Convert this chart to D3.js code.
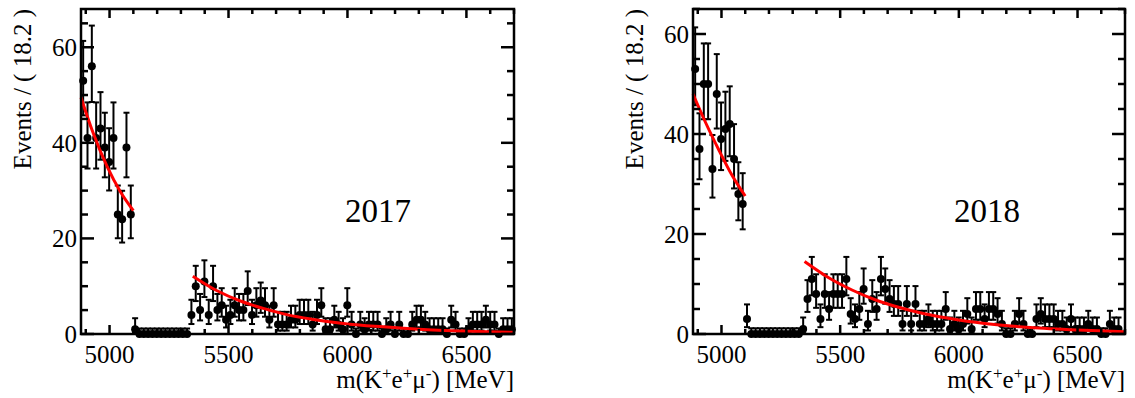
<!DOCTYPE html>
<html>
<head>
<meta charset="utf-8">
<script src="https://cdn.jsdelivr.net/npm/d3@7"></script>
<style>
  html, body { margin: 0; padding: 0; background: #fff; }
  svg { display: block; }
  text { font-family: "Liberation Serif", "DejaVu Serif", serif; fill: #000; }
</style>
</head>
<body>
<svg id="chart" width="1135" height="398"></svg>
<script>
// Binning: 100 bins of 18.2 MeV between 4880 and 6700 MeV
const massRange = [4880, 6700];
const nBins = 100;

// Event counts per bin, 2017 sample
const counts2017 = [
  53, 41, 56, 41, 43, 39, 36, 41, 25, 24, 39, 25,
  1, 0, 0, 0, 0, 0, 0, 0, 0, 0, 0, 0, 0,
  4, 10, 5, 11, 4, 10, 5, 6, 3, 4,
  6, 5, 5, 9, 4, 6, 7, 6, 3, 6,
  2, 2, 2, 3, 3, 4, 4, 4, 2, 4,
  6, 1, 1, 3, 2, 1, 6, 2, 0,
  2, 1, 2, 2, 2, 0, 1, 2, 0, 2, 0, 0, 2, 3, 3, 2, 1, 1,
  1, 1, 0, 3, 2, 0, 0, 1, 2, 2, 2, 3, 2, 2, 0, 1, 1, 1
];

// Event counts per bin, 2018 sample
const counts2018 = [
  53, 37, 50, 50, 33, 48, 39, 41, 42, 35, 28, 26,
  3, 0, 0, 0, 0, 0, 0, 0, 0, 0, 0, 0, 0,
  1,
  7, 11, 8, 3, 8, 5, 8, 8, 8, 11, 4, 3, 5, 9, 2, 7, 5, 11, 9,
  7, 6, 6, 2, 6, 2, 6, 2, 2, 3, 2, 2, 2, 5,
  1, 2, 1, 2, 4, 1, 5, 5, 3, 5, 5, 4, 2, 0, 0, 2, 4, 2, 0, 0,
  3, 4, 3, 3, 3, 2, 2, 1, 3, 1, 1, 1, 2, 1, 1, 0, 0, 2, 1, 1
];

// Background fit curves (lower and upper sidebands), sampled in mass
const fitLowMass = [4880, 4930, 4990, 5045, 5100];
const fitHighMass = [5350, 5450, 5550, 5650, 5750, 5850, 6000, 6150, 6300, 6500, 6700];
const fitLow2017 = [49.5, 42.2, 35.0, 29.8, 25.8];
const fitHigh2017 = [12.1, 9.1, 6.9, 5.3, 4.0, 3.1, 2.1, 1.5, 1.0, 0.6, 0.35];
const fitLow2018 = [48.0, 42.6, 36.7, 31.7, 27.6];
const fitHigh2018 = [14.5, 11.3, 8.8, 6.8, 5.3, 4.1, 2.8, 1.9, 1.3, 0.8, 0.47];

// Axis ticks and labels
const xMajorTicks = [5000, 5500, 6000, 6500];
const xMinorTicks = d3.range(4900, 6701, 100);
const yMajorTicks = [0, 20, 40, 60];
const yMinorStep = 5;
const yearLabels = ["2017", "2018"];
const yTitle = "Events / ( 18.2 )";

// Poisson 68.27% interval (central; one-sided for n = 0)
function poissonCdf(n, mu) {
  let term = Math.exp(-mu), sum = term;
  for (let k = 1; k <= n; k++) { term *= mu / k; sum += term; }
  return sum;
}
function poissonInterval(n) {
  const a = 0.158655;
  if (n === 0) return [0, -Math.log(1 - 0.682689)];
  const solve = (f, lo, hi) => {
    for (let i = 0; i < 80; i++) {
      const mid = 0.5 * (lo + hi);
      if (f(mid) > 0) lo = mid; else hi = mid;
    }
    return 0.5 * (lo + hi);
  };
  const upper = solve(mu => poissonCdf(n, mu) - a, n, n + 10 * Math.sqrt(n + 1) + 10);
  const lower = solve(mu => (1 - poissonCdf(n - 1, mu)) < a ? 1 : -1, 0, n);
  return [lower, upper];
}

const svg = d3.select("#chart");
const binWidth = (massRange[1] - massRange[0]) / nBins;

const panels = [
  { counts: counts2017, fitLow: fitLow2017, fitHigh: fitHigh2017, year: yearLabels[0],
    x0: 81, x1: 514, y0: 9, y1: 334, yMax: 68, titleX: 31, yearX: 378 },
  { counts: counts2018, fitLow: fitLow2018, fitHigh: fitHigh2018, year: yearLabels[1],
    x0: 693, x1: 1125, y0: 9, y1: 334, yMax: 65, titleX: 643, yearX: 987 }
];

panels.forEach(p => {
  const g = svg.append("g");
  const x = d3.scaleLinear().domain(massRange).range([p.x0, p.x1]);
  const y = d3.scaleLinear().domain([0, p.yMax]).range([p.y1, p.y0]);

  // data points with Poisson error bars
  const pts = p.counts.map((n, i) => {
    const [lo, hi] = poissonInterval(n);
    return { m: massRange[0] + (i + 0.5) * binWidth, n, lo, hi };
  });
  const pg = g.append("g");
  pg.selectAll("line.err").data(pts).join("line")
    .attr("x1", d => x(d.m)).attr("x2", d => x(d.m))
    .attr("y1", d => y(d.lo)).attr("y2", d => y(d.hi))
    .attr("stroke", "#000").attr("stroke-width", 2);
  pg.selectAll("line.capHi").data(pts).join("line")
    .attr("x1", d => x(d.m) - 3).attr("x2", d => x(d.m) + 3)
    .attr("y1", d => y(d.hi)).attr("y2", d => y(d.hi))
    .attr("stroke", "#000").attr("stroke-width", 2);
  pg.selectAll("line.capLo").data(pts).join("line")
    .attr("x1", d => x(d.m) - 3).attr("x2", d => x(d.m) + 3)
    .attr("y1", d => y(d.lo)).attr("y2", d => y(d.lo))
    .attr("stroke", "#000").attr("stroke-width", 2);
  pg.selectAll("circle").data(pts).join("circle")
    .attr("cx", d => x(d.m)).attr("cy", d => y(d.n)).attr("r", 4)
    .attr("fill", "#000");

  // fit curves, drawn over the data
  const line = d3.line().x(d => x(d[0])).y(d => y(d[1])).curve(d3.curveMonotoneX);
  [[fitLowMass, p.fitLow], [fitHighMass, p.fitHigh]].forEach(([ms, vs]) => {
    g.append("path")
      .datum(ms.map((m, i) => [m, vs[i]]))
      .attr("d", line)
      .attr("fill", "none")
      .attr("stroke", "#ff0000")
      .attr("stroke-width", 3);
  });

  // frame
  g.append("rect")
    .attr("x", p.x0).attr("y", p.y0)
    .attr("width", p.x1 - p.x0).attr("height", p.y1 - p.y0)
    .attr("fill", "none").attr("stroke", "#000").attr("stroke-width", 2.5);

  // ticks on all four sides
  const tg = g.append("g").attr("stroke", "#000").attr("stroke-width", 2.5);
  const yMinor = d3.range(0, p.yMax + 0.001, yMinorStep);
  xMinorTicks.forEach(t => {
    const L = xMajorTicks.includes(t) ? 9 : 5;
    tg.append("line").attr("x1", x(t)).attr("x2", x(t)).attr("y1", p.y1).attr("y2", p.y1 - L);
    tg.append("line").attr("x1", x(t)).attr("x2", x(t)).attr("y1", p.y0).attr("y2", p.y0 + L);
  });
  yMinor.forEach(t => {
    const L = yMajorTicks.includes(t) ? 13 : 7;
    tg.append("line").attr("y1", y(t)).attr("y2", y(t)).attr("x1", p.x0).attr("x2", p.x0 + L);
    tg.append("line").attr("y1", y(t)).attr("y2", y(t)).attr("x1", p.x1).attr("x2", p.x1 - L);
  });

  // tick labels
  g.selectAll("text.xl").data(xMajorTicks).join("text")
    .attr("x", d => x(d)).attr("y", 363)
    .attr("text-anchor", "middle").attr("font-size", 25)
    .text(d => d);
  g.selectAll("text.yl").data(yMajorTicks).join("text")
    .attr("x", p.x0 - 4).attr("y", d => y(d)).attr("dy", "0.35em")
    .attr("text-anchor", "end").attr("font-size", 25)
    .text(d => d);

  // axis titles
  g.append("text")
    .attr("transform", `translate(${p.titleX},${p.y0}) rotate(-90)`)
    .attr("text-anchor", "end").attr("font-size", 25)
    .text(yTitle);

  const xt = g.append("text")
    .attr("x", p.x1).attr("y", 388)
    .attr("text-anchor", "end").attr("font-size", 25);
  const parts = [["m(K", 0], ["+", 1], ["e", 0], ["+", 1], ["\u03bc", 0], ["-", 1], [") [MeV]", 0]];
  let raised = false;
  parts.forEach(([s, sup]) => {
    const ts = xt.append("tspan").text(s);
    if (sup && !raised) { ts.attr("dy", -9).attr("font-size", 17); raised = true; }
    else if (sup) { ts.attr("font-size", 17); }
    else if (raised) { ts.attr("dy", 9); raised = false; }
  });

  // year label
  g.append("text")
    .attr("x", p.yearX).attr("y", 222)
    .attr("text-anchor", "middle").attr("font-size", 33)
    .text(p.year);
});
</script>
</body>
</html>
